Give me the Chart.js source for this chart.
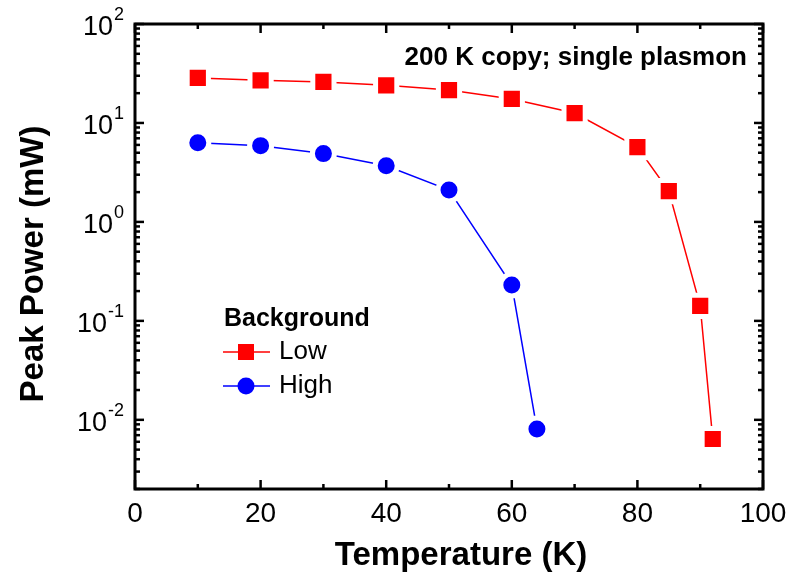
<!DOCTYPE html>
<html>
<head>
<meta charset="utf-8">
<script src="https://cdn.jsdelivr.net/npm/chart.js@4.4.1/dist/chart.umd.min.js"></script>
<style>
  html, body { margin: 0; padding: 0; background: #fff; }
</style>
</head>
<body>
<canvas id="chart" width="801" height="579"></canvas>
<script>
// values
const lowTemps  = [10, 20, 30, 40, 50, 60, 70, 80, 85, 90, 92];
const lowPower  = [28.5, 27, 26, 24, 21.5, 17.5, 12.6, 5.7, 2.05, 0.142, 0.0064];
const highTemps = [10, 20, 30, 40, 50, 60, 64];
const highPower = [6.3, 5.9, 4.9, 3.7, 2.1, 0.23, 0.0081];

const xMajorTicks = [0, 20, 40, 60, 80, 100];
const xMinorTicks = [10, 30, 50, 70, 90];
const yDecades = [-2, -1, 0, 1, 2];
const yMinorMults = [2, 3, 4, 5, 6, 7, 8, 9];

const FONT = "'Liberation Sans', Arial, sans-serif";
const RED = '#ff0000';
const BLUE = '#0000ff';

// frame + inward ticks on all four sides, like the original plot
const framePlugin = {
  id: 'frame',
  afterDraw(chart) {
    const ctx = chart.ctx;
    const a = chart.chartArea;
    const xs = chart.scales.x, ys = chart.scales.y;
    ctx.save();
    ctx.strokeStyle = '#000';
    ctx.lineWidth = 3;
    ctx.strokeRect(a.left, a.top, a.right - a.left, a.bottom - a.top);

    ctx.lineWidth = 2.5;
    const tick = (x1, y1, x2, y2) => { ctx.beginPath(); ctx.moveTo(x1, y1); ctx.lineTo(x2, y2); ctx.stroke(); };
    xMajorTicks.forEach(v => {
      const px = xs.getPixelForValue(v);
      tick(px, a.bottom, px, a.bottom - 9);
      tick(px, a.top, px, a.top + 9);
    });
    xMinorTicks.forEach(v => {
      const px = xs.getPixelForValue(v);
      tick(px, a.bottom, px, a.bottom - 5);
      tick(px, a.top, px, a.top + 5);
    });
    yDecades.forEach(d => {
      const py = ys.getPixelForValue(Math.pow(10, d));
      tick(a.left, py, a.left + 9, py);
      tick(a.right, py, a.right - 9, py);
    });
    [-3, -2, -1, 0, 1].forEach(d => {
      yMinorMults.forEach(m => {
        const v = m * Math.pow(10, d);
        if (v < ys.min || v > ys.max) return;
        const py = ys.getPixelForValue(v);
        tick(a.left, py, a.left + 5, py);
        tick(a.right, py, a.right - 5, py);
      });
    });

    // y tick labels as 10 with a raised exponent
    ctx.fillStyle = '#000';
    ctx.textBaseline = 'alphabetic';
    yDecades.forEach(d => {
      const py = ys.getPixelForValue(Math.pow(10, d));
      const exp = d < 0 ? '-' + Math.abs(d) : String(d);
      ctx.font = '18px ' + FONT;
      const ew = ctx.measureText(exp).width;
      const right = a.left - 11;
      ctx.textAlign = 'right';
      ctx.fillText(exp, right, py - 4);
      ctx.font = '27px ' + FONT;
      ctx.fillText('10', right - ew - 1, py + 11);
    });

    // axis titles
    ctx.font = 'bold 33px ' + FONT;
    ctx.textAlign = 'center';
    ctx.fillText('Temperature (K)', 461, 565);
    ctx.save();
    ctx.translate(43, 264);
    ctx.rotate(-Math.PI / 2);
    ctx.fillText('Peak Power (mW)', 0, 0);
    ctx.restore();

    // annotation
    ctx.font = 'bold 26px ' + FONT;
    ctx.textAlign = 'right';
    ctx.fillText('200 K copy; single plasmon', 747, 65);

    // legend
    ctx.textAlign = 'left';
    ctx.font = 'bold 25px ' + FONT;
    ctx.fillText('Background', 224, 326);
    const entries = chart.data.datasets.map((ds, i) => ({ ds, y: 352 + i * 34 }));
    entries.forEach(({ ds, y }) => {
      ctx.strokeStyle = ds.borderColor;
      ctx.lineWidth = 1.5;
      tick(223, y, 270, y);
      ctx.fillStyle = ds.borderColor;
      ctx.beginPath();
      if (ds.pointStyle === 'rect') {
        ctx.rect(246 - 8, y - 8, 16, 16);
      } else {
        ctx.arc(246, y, 8.5, 0, Math.PI * 2);
      }
      ctx.fill();
      ctx.fillStyle = '#000';
      ctx.font = '26px ' + FONT;
      ctx.fillText(ds.label, 279, y + 7);
    });
    ctx.restore();
  }
};

new Chart(document.getElementById('chart'), {
  type: 'line',
  data: {
    datasets: [
      {
        label: 'Low',
        data: lowTemps.map((t, i) => ({ x: t, y: lowPower[i] })),
        borderColor: RED,
        backgroundColor: RED,
        borderWidth: 1.5,
        pointStyle: 'rect',
        pointRadius: 15,
        pointBackgroundColor: RED,
        pointBorderColor: '#ffffff',
        pointBorderWidth: 5
      },
      {
        label: 'High',
        data: highTemps.map((t, i) => ({ x: t, y: highPower[i] })),
        borderColor: BLUE,
        backgroundColor: BLUE,
        borderWidth: 1.5,
        pointStyle: 'circle',
        pointRadius: 11,
        pointBackgroundColor: BLUE,
        pointBorderColor: '#ffffff',
        pointBorderWidth: 5
      }
    ]
  },
  options: {
    responsive: false,
    animation: false,
    events: [],
    layout: { padding: { top: 24, right: 38, left: 0, bottom: 0 } },
    plugins: { legend: { display: false }, tooltip: { enabled: false } },
    scales: {
      x: {
        type: 'linear',
        min: 0,
        max: 100,
        afterBuildTicks: (scale) => { scale.ticks = xMajorTicks.map(v => ({ value: v })); },
        afterFit: (scale) => { scale.height = 90; },
        grid: { display: false, drawTicks: false },
        border: { display: false },
        ticks: { color: '#000', font: { family: FONT, size: 28 }, padding: 8, maxRotation: 0 },
        title: { display: false }
      },
      y: {
        type: 'logarithmic',
        min: 0.002,
        max: 100,
        afterFit: (scale) => { scale.width = 135; },
        grid: { display: false, drawTicks: false },
        border: { display: false },
        ticks: { display: false },
        title: { display: false }
      }
    }
  },
  plugins: [framePlugin]
});
</script>
</body>
</html>
